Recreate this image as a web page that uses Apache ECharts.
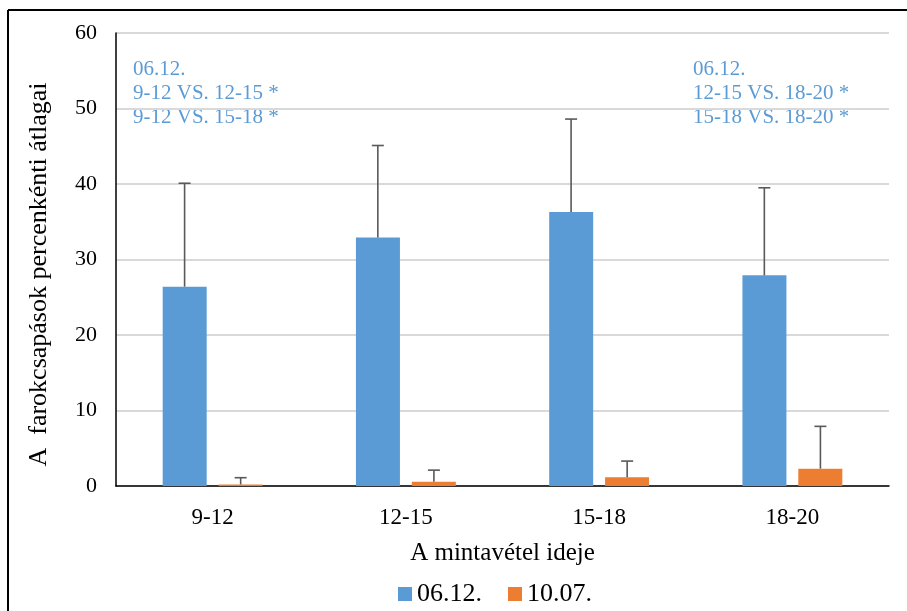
<!DOCTYPE html>
<html>
<head>
<meta charset="utf-8">
<script src="https://cdn.jsdelivr.net/npm/echarts@6/dist/echarts.min.js"></script>
<style>
  html, body { margin: 0; padding: 0; background: #fff; }
  #chart { width: 907px; height: 611px; }
</style>
</head>
<body>
<div id="chart"></div>
<script>
    'use strict';

    // mintavételi időszakok
    var categories = ['9-12', '12-15', '15-18', '18-20'];

    // átlagok
    var june = [26.4, 32.9, 36.3, 27.9];
    var october = [0.2, 0.55, 1.15, 2.3];

    // hibasávok felső vége
    var juneErr = [40.1, 45.1, 48.6, 39.5];
    var octoberErr = [1.1, 2.1, 3.3, 7.9];

    var yTicks = [0, 10, 20, 30, 40, 50, 60];

    var leftNote = ['06.12.', '9-12 VS. 12-15 *', '9-12 VS. 15-18 *'];
    var rightNote = ['06.12.', '12-15 VS. 18-20 *', '15-18 VS. 18-20 *'];

    var font = '"Liberation Serif", "DejaVu Serif", serif';
    var blue = '#5b9bd5';
    var orange = '#ed7d31';

    var chart = echarts.init(document.getElementById('chart'), null, { renderer: 'canvas' });

    // hibasáv, csak felfelé
    var errorSeries = function (name, tops, means, shift) {
        return {
            name: name + ' err',
            type: 'custom',
            z: 5,
            silent: true,
            data: tops.map(function (t, i) { return [i, means[i], t]; }),
            renderItem: function (params, api) {
                var band = api.size([1, 0])[0];
                var dx = band * shift;
                var base = api.coord([api.value(0), api.value(1)]);
                var top = api.coord([api.value(0), api.value(2)]);
                var x = base[0] + dx;
                var style = { stroke: '#595959', lineWidth: 1.6 };
                return {
                    type: 'group',
                    children: [
                        { type: 'line', shape: { x1: x, y1: base[1], x2: x, y2: top[1] }, style: style },
                        { type: 'line', shape: { x1: x - 6, y1: top[1], x2: x + 6, y2: top[1] }, style: style }
                    ]
                };
            }
        };
    };

    var option = {
        animation: false,
        textStyle: { fontFamily: font },
        grid: { left: 116, right: 18, top: 33, bottom: 125 },
        legend: {
            data: ['06.12.', '10.07.'],
            bottom: -1,
            left: 393,
            itemWidth: 14,
            itemHeight: 14,
            itemGap: 26,
            icon: 'rect',
            textStyle: { fontFamily: font, fontSize: 26, color: '#000' }
        },
        xAxis: {
            type: 'category',
            data: categories,
            name: 'A mintavétel ideje',
            nameLocation: 'middle',
            nameGap: 55,
            nameTextStyle: { fontFamily: font, fontSize: 25, color: '#000' },
            axisLine: { lineStyle: { color: '#000', width: 1.5 } },
            axisTick: { show: false },
            axisLabel: { fontFamily: font, fontSize: 23, color: '#000', margin: 20 }
        },
        yAxis: {
            type: 'value',
            min: yTicks[0],
            max: yTicks[yTicks.length - 1],
            interval: 10,
            name: 'A  farokcsapások percenkénti átlagai',
            nameLocation: 'middle',
            nameGap: 64,
            nameTextStyle: { fontFamily: font, fontSize: 26, color: '#000', padding: [0, 0, 0, -30] },
            axisLine: { show: true, lineStyle: { color: '#000', width: 1.5 } },
            axisTick: { show: false },
            axisLabel: { fontFamily: font, fontSize: 22, color: '#000', margin: 19 },
            splitLine: { lineStyle: { color: '#d9d9d9', width: 2 } }
        },
        series: [
            {
                name: '06.12.',
                type: 'bar',
                data: june,
                barWidth: 44,
                barGap: '27%',
                itemStyle: { color: blue }
            },
            {
                name: '10.07.',
                type: 'bar',
                data: october,
                barWidth: 44,
                itemStyle: { color: orange }
            },
            errorSeries('06.12.', juneErr, june, -28 / 193),
            errorSeries('10.07.', octoberErr, october, 28 / 193)
        ],
        graphic: [
            {
                type: 'text', left: 133, top: 57,
                style: { text: leftNote.join('\n'), fill: blue, fontSize: 21, fontFamily: font, lineHeight: 24 }
            },
            {
                type: 'text', left: 693, top: 57,
                style: { text: rightNote.join('\n'), fill: blue, fontSize: 21, fontFamily: font, lineHeight: 24 }
            },
            { type: 'line', shape: { x1: 8, y1: 10, x2: 907, y2: 10 }, style: { stroke: '#000', lineWidth: 2 } },
            { type: 'line', shape: { x1: 8, y1: 10, x2: 8, y2: 611 }, style: { stroke: '#000', lineWidth: 2 } }
        ]
    };

    chart.setOption(option);
</script>
</body>
</html>
